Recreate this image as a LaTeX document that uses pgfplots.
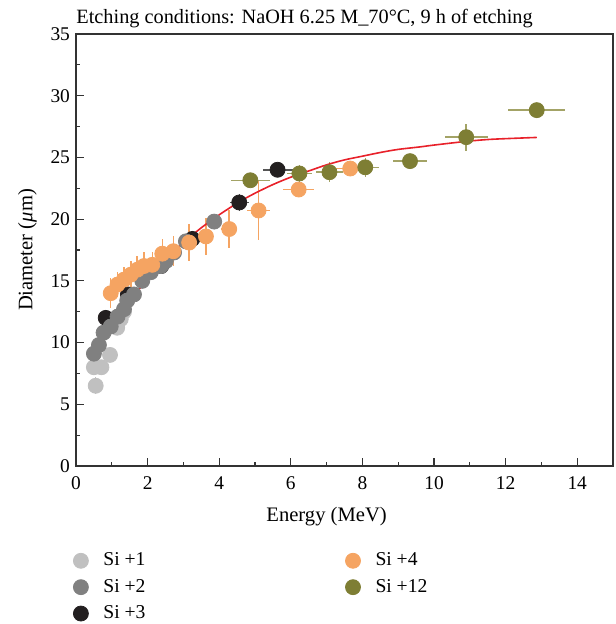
\documentclass[border=0pt]{standalone}
\usepackage{fontspec}
\setmainfont{Liberation Serif}
\usepackage{pgfplots}
\usepackage{pgfplotstable}
\pgfplotsset{compat=1.18}
\definecolor{c1}{HTML}{C0C0C0}
\definecolor{c2}{HTML}{808080}
\definecolor{c3}{HTML}{231F20}
\definecolor{e3}{HTML}{555555}
\definecolor{c4}{HTML}{F5A462}
\definecolor{c12}{HTML}{7E7E34}
\definecolor{e12}{HTML}{A3A366}
\definecolor{fitred}{HTML}{E8212A}

\pgfplotstableread{
x y ex ey
0.55 6.5 0.05 0.7
0.50 8.0 0.05 0.6
0.71 8.0 0.05 0.6
0.95 9.0 0.05 0.6
1.15 11.2 0.05 0.6
1.25 11.9 0.05 0.6
1.34 12.5 0.05 0.6
}\siA

\pgfplotstableread{
x y ex ey
0.50 9.1 0.05 0.5
0.64 9.8 0.05 0.5
0.77 10.8 0.05 0.5
0.97 11.3 0.05 0.5
1.16 12.1 0.05 0.5
1.34 12.7 0.06 0.5
1.43 13.4 0.06 0.5
1.62 13.9 0.07 0.5
1.85 15.0 0.08 0.5
2.09 15.7 0.08 0.5
2.37 16.2 0.09 0.5
2.51 16.6 0.10 0.5
2.74 17.3 0.10 0.5
3.07 18.2 0.12 0.5
3.86 19.8 0.15 0.5
}\siB

\pgfplotstableread{
x y ex ey
0.83 12.0 0.08 0.4
1.45 13.9 0.08 0.4
2.38 16.2 0.10 0.4
3.25 18.4 0.15 0.5
4.56 21.35 0.26 0.7
5.63 24.0 0.42 0.45
}\siC

\pgfplotstableread{
x y ex ey
0.97 14.0 0.05 1.2
1.16 14.7 0.05 1.0
1.34 15.1 0.05 1.0
1.53 15.5 0.05 1.1
1.71 15.9 0.05 1.1
1.90 16.2 0.06 1.1
2.13 16.3 0.07 1.0
2.41 17.2 0.08 1.2
2.72 17.4 0.10 1.2
3.16 18.1 0.12 1.5
3.63 18.6 0.15 1.5
4.28 19.2 0.23 1.5
5.10 20.7 0.33 2.4
6.22 22.4 0.43 0.4
7.66 24.1 0.40 0.4
}\siD

\pgfplotstableread{
x y ex ey
4.87 23.15 0.54 0.3
6.24 23.7 0.35 0.7
7.08 23.8 0.37 0.8
8.08 24.2 0.37 0.75
9.33 24.7 0.48 0.2
10.90 26.64 0.60 1.1
12.87 28.83 0.79 0.15
}\siL

\pgfplotstableread{
x y
0.55 9.0
1.0 11.3
1.5 13.4
2.0 15.1
2.5 16.7
3.0 18.1
3.5 19.3
4.0 20.35
4.56 21.4
5.0 22.1
5.5 22.8
6.0 23.4
6.5 23.9
7.0 24.4
7.5 24.8
8.0 25.1
8.5 25.4
9.0 25.65
9.6 25.85
10.0 26.0
10.9 26.3
11.5 26.45
12.0 26.52
12.87 26.62
}\fit

\begin{document}
\begin{tikzpicture}[font=\fontsize{9.5}{11.4}\selectfont]
\useasboundingbox (-38pt,-79pt) rectangle (269.5pt,233pt);
\begin{axis}[
  scale only axis, width=268.5pt, height=216pt,
  at={(0,0)}, anchor=south west,
  xmin=0, xmax=15, ymin=0, ymax=35,
  xtick={0,2,...,14}, ytick={0,5,...,35},
  minor x tick num=1, minor y tick num=1,
  tick pos=left, tick align=inside,
  major tick length=3.8pt, minor tick length=2pt,
  axis line style={black!80, line width=0.6pt},
  every tick/.style={black!80, line width=0.6pt},
  /pgf/number format/assume math mode=true,
  tick label style={font=\fontsize{9.7}{11.6}\selectfont},
  xticklabel style={yshift=-2pt},
  yticklabel style={xshift=0.5pt},
  xlabel={Energy (MeV)}, ylabel={Diameter (\textit{μ}m)},
  label style={font=\fontsize{10.3}{12.4}\selectfont},
  xlabel style={at={(ticklabel cs:0.4667)}, yshift=-1.5pt},
  every axis title shift=0pt,
  title={Etching conditions: NaOH 6.25 M\_70°C, 9 h of etching},
  title style={at={(axis description cs:0,1)}, anchor=base west, inner sep=0pt, yshift=5pt,
    font=\fontsize{10.15}{12.2}\selectfont},
  legend columns=2, legend cell align=left,
  legend style={draw=none, fill=none, at={(axis description cs:0,0)}, anchor=north west,
    xshift=-4.5pt, yshift=-39.2pt, row sep=1.2pt,
    font=\fontsize{9.8}{11.8}\selectfont,
    /tikz/every odd column/.append style={column sep=5.5pt},
    /tikz/every even column/.append style={column sep=98pt}},
  error bars/error mark=none,
]
\addplot[only marks, mark=*, mark size=3.75pt, color=c1, forget plot,
  error bars/.cd, x dir=both, x explicit, y dir=both, y explicit,
  error bar style={c1, line width=0.75pt}]
  table[x=x, y=y, x error=ex, y error=ey]{\siA};
\addplot[only marks, mark=*, mark size=3.75pt, color=c3, forget plot,
  error bars/.cd, x dir=both, x explicit, y dir=both, y explicit,
  error bar style={e3, line width=0.75pt}]
  table[x=x, y=y, x error=ex, y error=ey]{\siC};
\addplot[only marks, mark=*, mark size=3.75pt, color=c2, forget plot,
  error bars/.cd, x dir=both, x explicit, y dir=both, y explicit,
  error bar style={c2, line width=0.75pt}]
  table[x=x, y=y, x error=ex, y error=ey]{\siB};
\addplot[only marks, mark=*, mark size=3.75pt, color=c4, forget plot,
  error bars/.cd, x dir=both, x explicit, y dir=both, y explicit,
  error bar style={c4, line width=0.75pt}]
  table[x=x, y=y, x error=ex, y error=ey]{\siD};
\addplot[only marks, mark=*, mark size=3.75pt, color=c12, forget plot,
  error bars/.cd, x dir=both, x explicit, y dir=both, y explicit,
  error bar style={e12, line width=0.75pt}]
  table[x=x, y=y, x error=ex, y error=ey]{\siL};
\addplot[fitred, line width=0.8pt, smooth, forget plot] table[x=x, y=y]{\fit};
\addlegendimage{only marks, mark=*, mark size=3.75pt, c1}
\addlegendentry{Si +1}
\addlegendimage{only marks, mark=*, mark size=3.75pt, c4}
\addlegendentry{Si +4}
\addlegendimage{only marks, mark=*, mark size=3.75pt, c2}
\addlegendentry{Si +2}
\addlegendimage{only marks, mark=*, mark size=3.75pt, c12}
\addlegendentry{Si +12}
\addlegendimage{only marks, mark=*, mark size=3.75pt, c3}
\addlegendentry{Si +3}
\end{axis}
\end{tikzpicture}
\end{document}
